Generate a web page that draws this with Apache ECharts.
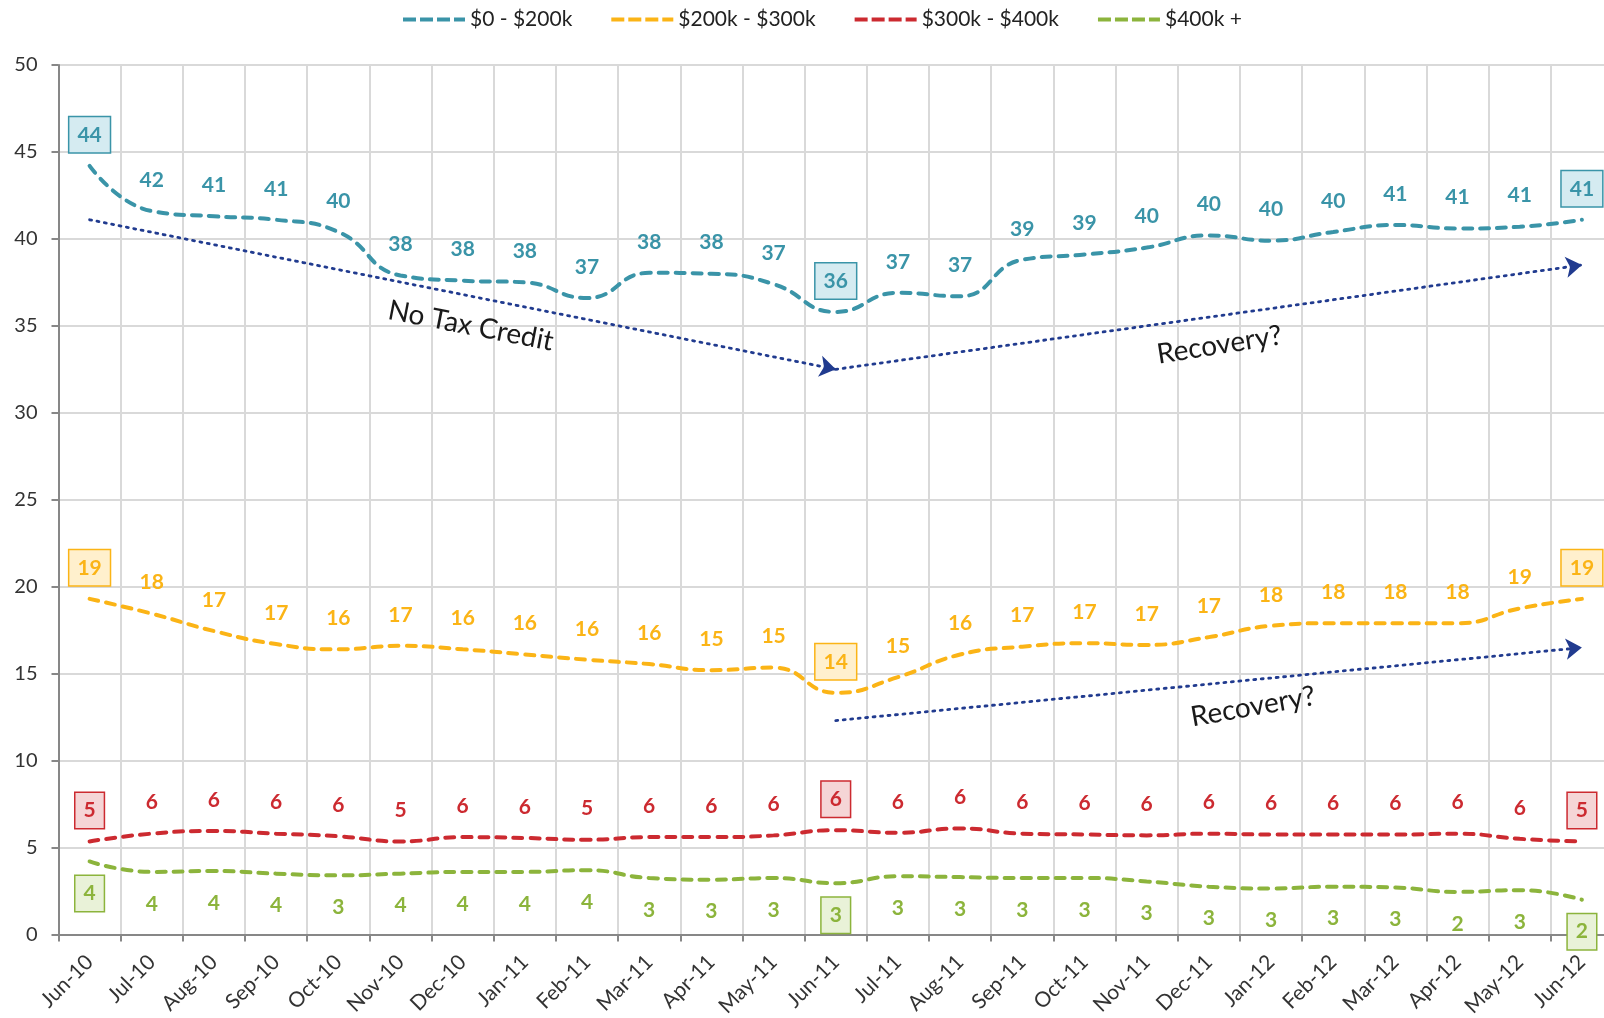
<!DOCTYPE html>
<html><head><meta charset="utf-8">
<script src="https://cdn.jsdelivr.net/npm/echarts@6/dist/echarts.min.js"></script>
<style>html,body{margin:0;padding:0;background:#fff}#c{width:1604px;height:1018px}</style>
</head><body><div id="c"></div>
<script>
const months = ['Jun-10','Jul-10','Aug-10','Sep-10','Oct-10','Nov-10','Dec-10','Jan-11','Feb-11','Mar-11','Apr-11','May-11','Jun-11','Jul-11','Aug-11','Sep-11','Oct-11','Nov-11','Dec-11','Jan-12','Feb-12','Mar-12','Apr-12','May-12','Jun-12'];
const tier0to200   = [44.2,41.6,41.3,41.1,40.4,37.9,37.6,37.5,36.6,38.05,38.0,37.4,35.8,36.9,36.7,38.8,39.1,39.5,40.2,39.9,40.4,40.8,40.6,40.7,41.1];
const tier200to300 = [19.3,18.45,17.45,16.7,16.4,16.6,16.4,16.1,15.8,15.55,15.2,15.35,13.9,14.8,16.1,16.55,16.75,16.65,17.1,17.75,17.9,17.9,17.9,18.75,19.3];
const tier300to400 = [5.35,5.8,5.95,5.8,5.65,5.35,5.6,5.55,5.45,5.6,5.6,5.7,6.0,5.85,6.1,5.8,5.75,5.7,5.8,5.75,5.75,5.75,5.8,5.5,5.35];
const tier400plus  = [4.2,3.6,3.65,3.5,3.4,3.5,3.6,3.6,3.7,3.25,3.15,3.25,2.95,3.35,3.3,3.25,3.25,3.05,2.75,2.65,2.75,2.7,2.45,2.55,2.0];
const seriesNames = ['$0 - $200k','$200k - $300k','$300k - $400k','$400k +'];
const highlightIdx = [0,12,24];
// trend arrows in data units: [categoryIndex, value]
const trendTopFall = [[0,41.1],[12,32.5]];
const trendTopRise = [[12,32.5],[24,38.5]];
const trendMidRise = [[12,12.3],[24,16.5]];
// annotation texts: [categoryIndex, value, rotationDeg (positive = clockwise)]
const noteLabels = ['No Tax Credit','Recovery?','Recovery?'];
const notePos = [[6.13,35.0,11],[18.17,33.9,-9],[18.71,13.1,-10]];

const styles = [
  {color:'#3a94a8', bg:'#d5ebf1', below:false},
  {color:'#fbb416', bg:'#fff0cd', below:false},
  {color:'#cc2a30', bg:'#f5d5d6', below:false},
  {color:'#8cb43c', bg:'#e9f2d8', below:true}
];
const FONT = 'Lato, "Open Sans", sans-serif';
const NAVY = '#213b8f';
const dashIcon = 'path://M0,0h13v4h-13z M17,0h13v4h-13z M34,0h13v4h-13z M51,0h11v4h-11z';

function buildData(vals, st){
  return vals.map((v,i)=> highlightIdx.indexOf(i)>=0 ? {
    value:v,
    label:{backgroundColor:st.bg,borderColor:st.color,borderWidth:1.5,padding:[6,8,5,8]}
  } : v);
}
function arrowLine(pair){
  return [{coord:pair[0], symbol:'none'},{coord:pair[1], symbol:'arrow'}];
}
const allVals = [tier0to200,tier200to300,tier300to400,tier400plus];
const series = allVals.map((vals,k)=>{
  const st = styles[k];
  const s = {
    name: seriesNames[k], type:'line', smooth:0.5,
    symbol:'circle', symbolSize:0, showSymbol:true,
    data: buildData(vals, st),
    lineStyle:{color:st.color,width:4,type:[9,8],cap:'round'},
    itemStyle:{color:st.color},
    label:{show:true, position:'inside', offset:[0, st.below?32:-31],
      formatter:p=>String(Math.round(p.value)),
      fontFamily:FONT, fontWeight:'bold', fontSize:21, color:st.color, lineHeight:24},
    emphasis:{disabled:true}, silent:true, z:3
  };
  if(k===0 || k===1){
    s.markLine = {silent:true, symbol:['none','arrow'], symbolSize:[16,16],
      label:{show:false}, emphasis:{disabled:true},
      lineStyle:{color:NAVY,width:2.8,type:[2,5.5],cap:'round'},
      data: k===0 ? [arrowLine(trendTopFall), arrowLine(trendTopRise)] : [arrowLine(trendMidRise)]
    };
  }
  return s;
});

const chart = echarts.init(document.getElementById('c'), null, {renderer:'canvas'});
chart.setOption({
  animation:false,
  backgroundColor:'#fff',
  legend:{top:4,left:398,itemWidth:62,itemHeight:4,itemGap:39,
    textStyle:{fontFamily:FONT,fontSize:21,color:'#222'},
    data: seriesNames.map((n,k)=>({name:n, icon:dashIcon, itemStyle:{color:styles[k].color}}))},
  grid:{left:58.5,right:-9,top:65,bottom:83.5,containLabel:false,outerBoundsMode:'none'},
  xAxis:{type:'category',data:months,boundaryGap:true,
    axisLine:{lineStyle:{color:'#878787',width:2}},
    axisTick:{show:true,length:7,alignWithLabel:false,interval:0,lineStyle:{color:'#878787',width:2}},
    axisLabel:{interval:0,rotate:45,margin:24,fontFamily:FONT,fontSize:21,color:'#333'},
    splitLine:{show:true,interval:0,lineStyle:{color:'#d9d9d9',width:2}}},
  yAxis:{type:'value',min:0,max:50,interval:5,
    axisLine:{show:true,lineStyle:{color:'#878787',width:2}},
    axisTick:{show:true,length:7,lineStyle:{color:'#878787',width:2}},
    axisLabel:{margin:21,fontFamily:FONT,fontSize:20,color:'#333'},
    splitLine:{show:true,lineStyle:{color:'#d9d9d9',width:2}}},
  series: series
});

const p0 = chart.convertToPixel({xAxisIndex:0,yAxisIndex:0},[0,0]);
const p1 = chart.convertToPixel({xAxisIndex:0,yAxisIndex:0},[1,10]);
const dx = p1[0]-p0[0], dy = (p1[1]-p0[1])/10;
chart.setOption({graphic: notePos.map((p,i)=>({
  type:'text', silent:true, z:10,
  x: p0[0] + p[0]*dx, y: p0[1] + p[1]*dy,
  rotation: -p[2]*Math.PI/180,
  style:{text:noteLabels[i], font:'28px '+FONT, fill:'#1a1a1a', textAlign:'center', textVerticalAlign:'middle'}
}))});
</script>
</body></html>
